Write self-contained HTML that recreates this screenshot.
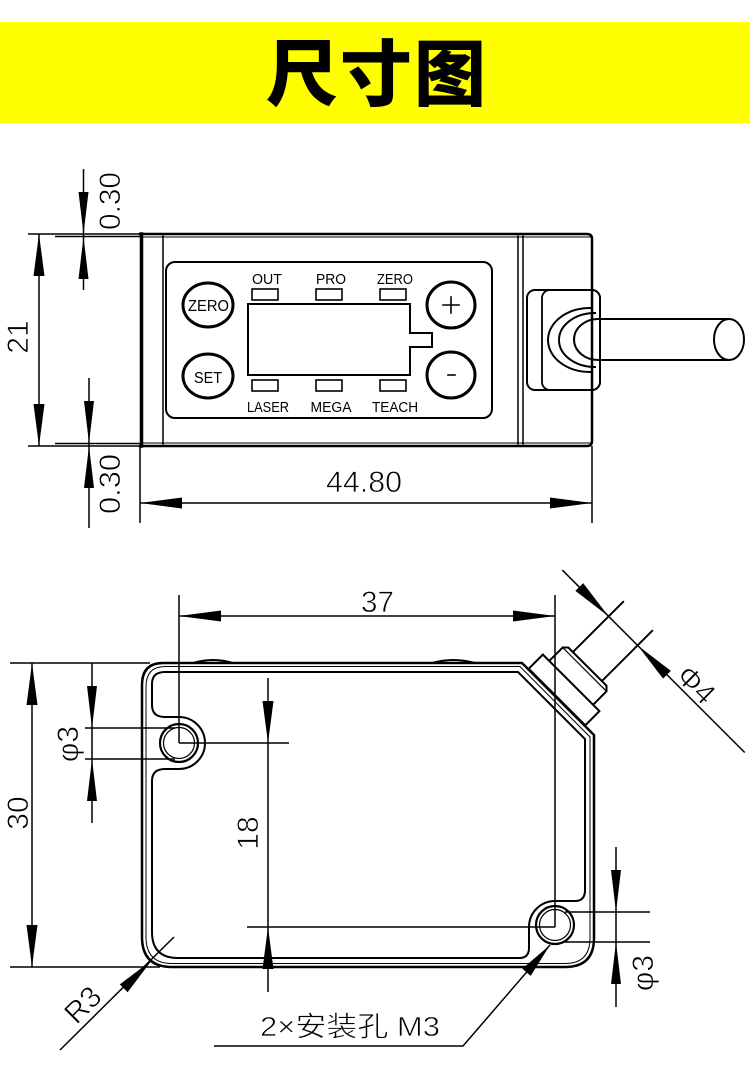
<!DOCTYPE html>
<html><head><meta charset="utf-8"><style>
html,body{margin:0;padding:0;background:#fff;}
svg{display:block}
text{font-family:"Liberation Sans","Noto Sans CJK SC",sans-serif;fill:#000;}
.thin text{stroke:#fff;stroke-width:0.7px;}
</style></head><body>
<svg width="750" height="1089" viewBox="0 0 750 1089" xmlns="http://www.w3.org/2000/svg">
<rect x="0" y="22" width="750" height="101" fill="#ffff00"/>
<g style="font-family:'Noto Sans CJK SC','WenQuanYi Zen Hei',sans-serif;font-weight:900;font-size:72px" text-anchor="middle">
<text x="302" y="100" style="font-family:'Noto Sans CJK SC','WenQuanYi Zen Hei',sans-serif;font-weight:900">尺</text>
<text x="376" y="100" style="font-family:'Noto Sans CJK SC','WenQuanYi Zen Hei',sans-serif;font-weight:900">寸</text>
<text x="450" y="100" style="font-family:'Noto Sans CJK SC','WenQuanYi Zen Hei',sans-serif;font-weight:900">图</text>
</g>

<!-- TOP VIEW -->
<g fill="none" stroke="#000" stroke-linecap="square">
<path d="M140,234 H587 Q592,234 592,239 V441 Q592,446 587,446 H140" stroke-width="2.5"/>
<line x1="141.5" y1="234" x2="141.5" y2="446" stroke-width="3.5"/>
<line x1="143" y1="237" x2="590" y2="237" stroke-width="1"/>
<line x1="143" y1="443" x2="590" y2="443" stroke-width="1"/>
<line x1="163" y1="236" x2="163" y2="444" stroke-width="1.5"/>
<line x1="518" y1="236" x2="518" y2="444" stroke-width="1.5"/>
<line x1="523" y1="236" x2="523" y2="444" stroke-width="1.5"/>
<rect x="166" y="262" width="326" height="156" rx="9" stroke-width="2"/>
<path d="M248,304 H410 V333 H432 V347 H410 V375 H248 Z" stroke-width="2"/>
<ellipse cx="208" cy="305" rx="25" ry="22" stroke-width="3"/>
<ellipse cx="208" cy="376" rx="25" ry="22" stroke-width="3"/>
<ellipse cx="451" cy="305" rx="24" ry="23" stroke-width="3"/>
<ellipse cx="451" cy="375" rx="24" ry="23" stroke-width="3"/>
<line x1="443" y1="305" x2="459" y2="305" stroke-width="1.6"/>
<line x1="451" y1="297" x2="451" y2="313" stroke-width="1.6"/>
<line x1="448" y1="375" x2="455" y2="375" stroke-width="1.6"/>
<rect x="252" y="289" width="26" height="11" stroke-width="1.6"/>
<rect x="316" y="289" width="26" height="11" stroke-width="1.6"/>
<rect x="380" y="289" width="26" height="11" stroke-width="1.6"/>
<rect x="252" y="380" width="26" height="11" stroke-width="1.6"/>
<rect x="316" y="380" width="26" height="11" stroke-width="1.6"/>
<rect x="380" y="380" width="26" height="11" stroke-width="1.6"/>
<rect x="527" y="290" width="73" height="100" rx="8" stroke-width="2"/>
<rect x="542" y="290" width="58" height="100" rx="8" stroke-width="1.8"/>
<path d="M590,308 A42,32 0 0 0 590,372" stroke-width="2"/>
<path d="M595,313 A36,27 0 0 0 595,367" stroke-width="2"/>
<path d="M598,319 A24,20.5 0 0 0 598,360" stroke-width="2"/>
<line x1="598" y1="319" x2="729" y2="319" stroke-width="2"/>
<line x1="598" y1="360" x2="729" y2="360" stroke-width="2"/>
<ellipse cx="729" cy="339.5" rx="15" ry="20.5" stroke-width="2" fill="#fff"/>
<g stroke-width="1.5" stroke-linecap="butt">
<line x1="39" y1="234" x2="39" y2="446"/>
<line x1="28" y1="234" x2="140" y2="234"/>
<line x1="55" y1="236.5" x2="140" y2="236.5"/>
<line x1="28" y1="446" x2="140" y2="446"/>
<line x1="55" y1="443.5" x2="140" y2="443.5"/>
<line x1="83.5" y1="169" x2="83.5" y2="290"/>
<line x1="89" y1="378" x2="89" y2="528"/>
<line x1="140" y1="503" x2="592" y2="503"/>
<line x1="140" y1="446" x2="140" y2="523"/>
<line x1="592" y1="446" x2="592" y2="523"/>
</g>
</g>
<g fill="#000">
<polygon points="39,234 33.5,276 44.5,276"/>
<polygon points="39,446 33.5,404 44.5,404"/>
<polygon points="83.5,234 78.5,192 88.5,192"/>
<polygon points="83.5,237 78.5,279 88.5,279"/>
<polygon points="89,443 84,401 94,401"/>
<polygon points="89,446 84,488 94,488"/>
<polygon points="140,503 182,497.5 182,508.5"/>
<polygon points="592,503 550,497.5 550,508.5"/>
</g>
<g font-size="15" text-anchor="middle">
<text x="267" y="284" textLength="30" lengthAdjust="spacingAndGlyphs">OUT</text>
<text x="331" y="284" textLength="30" lengthAdjust="spacingAndGlyphs">PRO</text>
<text x="395" y="284" textLength="36" lengthAdjust="spacingAndGlyphs">ZERO</text>
<text x="268" y="412" textLength="42" lengthAdjust="spacingAndGlyphs">LASER</text>
<text x="331" y="412" textLength="41" lengthAdjust="spacingAndGlyphs">MEGA</text>
<text x="395" y="412" textLength="46" lengthAdjust="spacingAndGlyphs">TEACH</text>
<text x="208.5" y="311" font-size="16" textLength="41" lengthAdjust="spacingAndGlyphs">ZERO</text>
<text x="208" y="383" font-size="16" textLength="28" lengthAdjust="spacingAndGlyphs">SET</text>
</g>
<g font-size="30" text-anchor="middle" class="thin">
<text transform="translate(120,201) rotate(-90)" textLength="58" lengthAdjust="spacingAndGlyphs">0.30</text>
<text transform="translate(120,484) rotate(-90)" textLength="60" lengthAdjust="spacingAndGlyphs">0.30</text>
<text transform="translate(28,337) rotate(-90)">21</text>
<text x="364" y="492" textLength="76" lengthAdjust="spacingAndGlyphs">44.80</text>
</g>

<!-- BOTTOM VIEW -->
<g fill="none" stroke="#000">
<path d="M163,663 H522 L594,735 V938 Q594,967 565,967 H172 Q142,967 142,937 V685 Q142,663 163,663 Z" stroke-width="2.5"/>
<path d="M165,666.5 H520 L590,737 V938 Q590,963.5 565,963.5 H172 Q146,963.5 146,937 V687 Q146,666.5 165,666.5 Z" stroke-width="1"/>
<path d="M165,672 H518 L585,739 V890 Q585,901 575,901 H555 A26,26 0 0 0 529,927 V948 Q529,958 519,958 H178 Q152,958 152,932 V781 Q152,769 165,769 H179 A26,26 0 0 0 179,717 H165 Q152,717 152,705 V684 Q152,672 165,672 Z" stroke-width="2"/>
<path d="M193,663 Q213,657 233,663" stroke-width="2"/>
<path d="M432,663 Q453,657 475,663" stroke-width="2"/>
<circle cx="179" cy="743" r="19" stroke-width="2.2"/>
<circle cx="179" cy="743" r="15.5" stroke-width="1.2"/>
<circle cx="555" cy="925" r="19" stroke-width="2.2"/>
<circle cx="555" cy="925" r="15.5" stroke-width="1.2"/>
<g transform="translate(557,697) rotate(-45)" stroke-width="2">
<rect x="0" y="-40" width="20" height="80"/>
<path d="M20,-31 H39 L43,-27 V27 L39,31 H20"/>
<line x1="39" y1="-31" x2="39" y2="31" stroke-width="1.2"/>
<line x1="43" y1="-20.5" x2="115" y2="-20.5"/>
<line x1="43" y1="20.5" x2="115" y2="20.5"/>
<line x1="93.5" y1="-86" x2="93.5" y2="172" stroke-width="1.5"/>
<polygon points="93.5,-20.5 88,-62 99,-62" fill="#000" stroke="none"/>
<polygon points="93.5,20.5 88,62 99,62" fill="#000" stroke="none"/>
</g>
<g stroke-width="1.5">
<line x1="179" y1="616" x2="555" y2="616"/>
<line x1="179" y1="595" x2="179" y2="743"/>
<line x1="555" y1="595" x2="555" y2="927"/>
<line x1="32" y1="663" x2="32" y2="967"/>
<line x1="10" y1="663" x2="150" y2="663"/>
<line x1="10" y1="967" x2="160" y2="967"/>
<line x1="85" y1="728" x2="175" y2="728"/>
<line x1="85" y1="759" x2="175" y2="759"/>
<line x1="92" y1="663" x2="92" y2="823"/>
<line x1="268" y1="678" x2="268" y2="992"/>
<line x1="179" y1="743" x2="289" y2="743"/>
<line x1="247" y1="927" x2="555" y2="927"/>
<line x1="565" y1="912" x2="650" y2="912"/>
<line x1="565" y1="942" x2="650" y2="942"/>
<line x1="616" y1="847" x2="616" y2="1007"/>
<line x1="60" y1="1050" x2="174" y2="937"/>
<polyline points="550,945 463,1046 214,1046"/>
</g>
</g>
<g fill="#000">
<polygon points="179,616 221,610.5 221,621.5"/>
<polygon points="555,616 513,610.5 513,621.5"/>
<polygon points="32,663 26.5,705 37.5,705"/>
<polygon points="32,967 26.5,925 37.5,925"/>
<polygon points="92,728 87,686 97,686"/>
<polygon points="92,759 87,801 97,801"/>
<polygon points="268,743 262.5,701 273.5,701"/>
<polygon points="268,927 262.5,969 273.5,969"/>
<polygon points="616,912 611,870 621,870"/>
<polygon points="616,942 611,984 621,984"/>
<polygon points="152,960 127.6,992.2 119.8,984.4"/>
<polygon points="550,945 530.7,975.9 522.3,968.7"/>
</g>
<g font-size="30" text-anchor="middle" class="thin">
<text x="377.5" y="612" textLength="33" lengthAdjust="spacingAndGlyphs">37</text>
<text transform="translate(28,813) rotate(-90)">30</text>
<text transform="translate(78,744) rotate(-90)">φ3</text>
<text transform="translate(258,833) rotate(-90)">18</text>
<text transform="translate(653,973) rotate(-90)">φ3</text>
<text transform="translate(689,692) rotate(45)">Φ4</text>
<text transform="translate(90,1012) rotate(-45)">R3</text>
<text x="350" y="1036" font-size="28" textLength="180" lengthAdjust="spacingAndGlyphs">2×安装孔 M3</text>
</g>
</svg>
</body></html>
